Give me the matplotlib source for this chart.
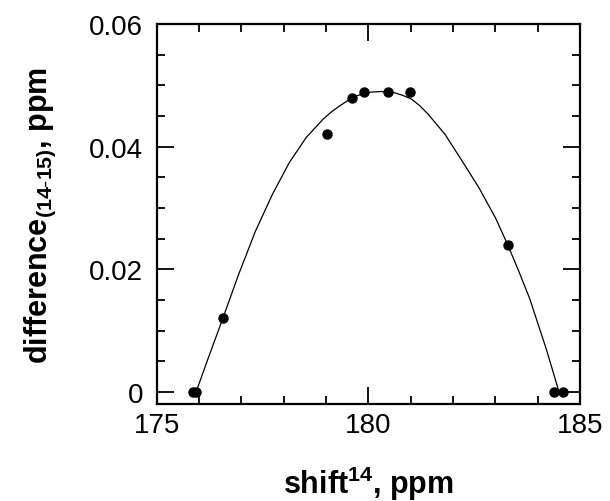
import matplotlib
matplotlib.use('Agg')
import matplotlib.pyplot as plt
from matplotlib.ticker import MultipleLocator

plt.rcParams['font.family'] = ['Liberation Sans', 'DejaVu Sans']
plt.rcParams['mathtext.fontset'] = 'custom'
plt.rcParams['mathtext.rm'] = 'Liberation Sans'
plt.rcParams['mathtext.bf'] = 'Liberation Sans:bold'

# measured points
shift = [175.85, 175.93, 176.57, 179.02, 179.62, 179.90, 180.46, 180.98, 183.30, 184.38, 184.59]
diff = [0.0, 0.0, 0.012, 0.042, 0.048, 0.049, 0.049, 0.049, 0.024, 0.0, 0.0]

# fitted curve
fit_x = [175.93, 176.21, 176.53, 176.93, 177.33, 177.73, 178.13, 178.53, 178.93, 179.13,
         179.33, 179.53, 179.73, 179.90, 180.05, 180.30, 180.61, 180.80, 181.01, 181.21,
         181.41, 181.81, 182.21, 182.61, 183.00, 183.29, 183.55, 183.81, 184.00, 184.20,
         184.48]
fit_y = [0.0, 0.0054, 0.0114, 0.0191, 0.0262, 0.0322, 0.0374, 0.0415, 0.0445, 0.0457,
         0.0467, 0.0476, 0.0483, 0.0487, 0.0489, 0.0490, 0.0488, 0.0484, 0.0478, 0.0467,
         0.0453, 0.0420, 0.0377, 0.0333, 0.0284, 0.0240, 0.0197, 0.0152, 0.0112, 0.0070,
         0.0005]

fig = plt.figure(figsize=(6.10, 5.02), dpi=100)
ax = fig.add_axes([0.257, 0.193, 0.694, 0.757])

ax.plot(fit_x, fit_y, color='k', lw=0.9)
ax.plot(shift, diff, 'o', color='k', ms=6.5, clip_on=False)

ax.set_xlim(175, 185)
ax.set_ylim(-0.002, 0.06)
ax.xaxis.set_major_locator(MultipleLocator(5))
ax.xaxis.set_minor_locator(MultipleLocator(1))
ax.yaxis.set_minor_locator(MultipleLocator(0.005))
ax.set_yticks([0, 0.02, 0.04, 0.06])
ax.set_yticklabels(['0', '0.02', '0.04', '0.06'])

ax.tick_params(which='both', direction='in', top=True, right=True, width=1.3, labelsize=20)
ax.tick_params(which='major', length=12)
ax.tick_params(which='minor', length=6)
ax.tick_params(axis='x', pad=6)
ax.tick_params(axis='y', pad=10)
for s in ax.spines.values():
    s.set_linewidth(1.6)

ax.set_xlabel(r'shift$^{\mathbf{14}}$, ppm', fontsize=22, fontweight='bold', labelpad=18)
ax.set_ylabel(r'difference$_{\mathbf{(14\text{-}15)}}$, ppm', fontsize=22, fontweight='bold', labelpad=22)

plt.savefig('out.png', dpi=100)
